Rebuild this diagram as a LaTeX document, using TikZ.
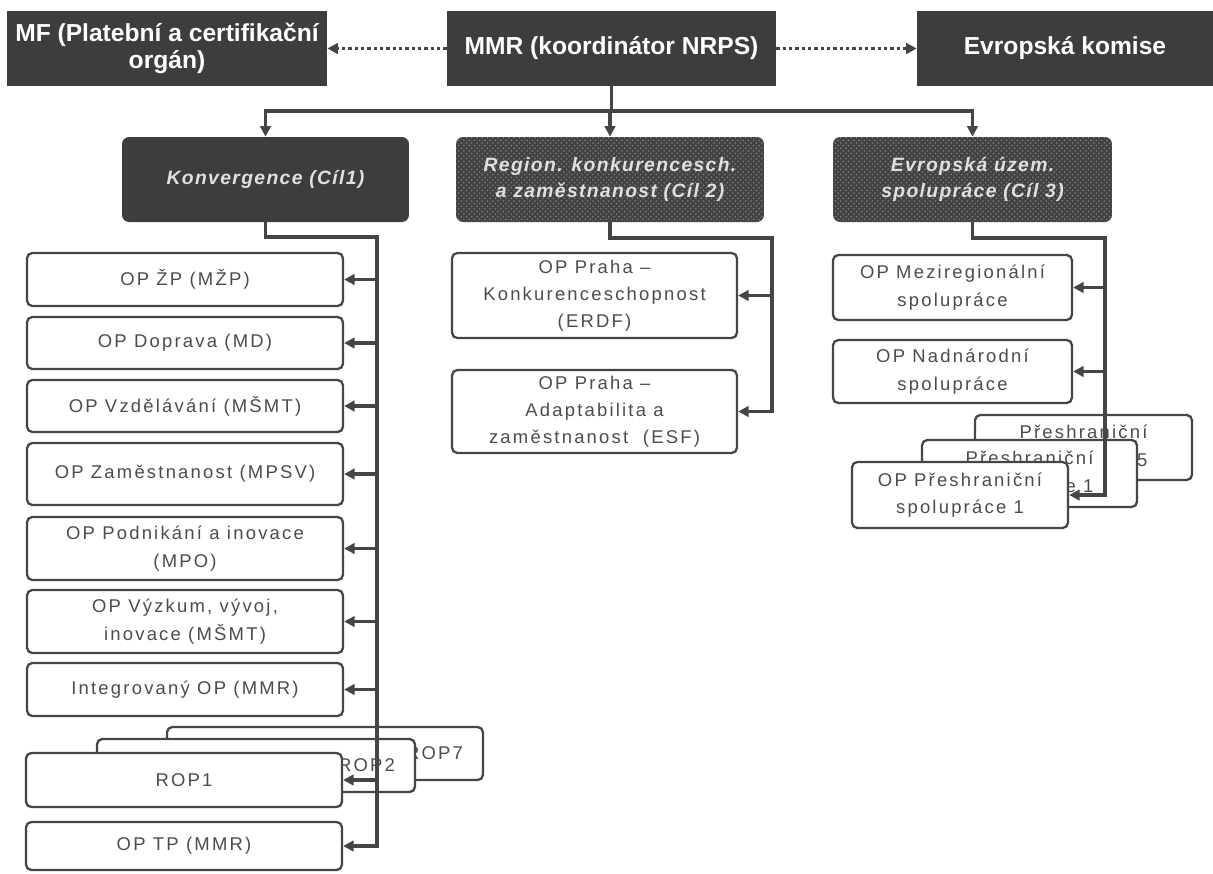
\documentclass[tikz,border=0pt]{standalone}
\usepackage{fontspec}
\setmainfont{Liberation Sans}
\newfontfamily\opfam[LetterSpace=12]{Liberation Sans}
\newfontfamily\goalfam[LetterSpace=7]{Liberation Sans}
\newcommand\opfnt{\opfam\fontsize{10.5}{15.5}\selectfont}
\newcommand\goalfnt{\goalfam\bfseries\itshape\fontsize{11}{15}\selectfont}
\newcommand\topfnt{\bfseries\fontsize{14}{15.5}\selectfont}
\usetikzlibrary{patterns,arrows.meta}
\definecolor{boxgray}{HTML}{3D3D3D}
\definecolor{linegray}{HTML}{454545}
\tikzset{
  topbox/.style={fill=boxgray, text=white, font=\topfnt, align=center,
    inner sep=1pt, minimum height=1.5cm},
  goalbox/.style={fill=boxgray, rounded corners=4pt, text=black!12,
    font=\goalfnt, align=center, inner sep=1pt, minimum height=1.7cm},
  dotbox/.style={goalbox, fill=black!74,
    postaction={pattern=crosshatch dots, pattern color=black!50}},
  opbox/.style={draw=linegray, line width=1.3pt, rounded corners=3pt,
    fill=white, text=black!70, font=\opfnt, align=center, inner sep=1pt},
  link/.style={draw=linegray, line width=1.8pt},
  conn/.style={link, -{Triangle[length=6pt,width=6pt]}},
  dotlink/.style={draw=linegray, line width=2pt,
    dash pattern=on 2pt off 1.6pt, -{Triangle[length=6pt,width=6pt]}}
}
\begin{document}
\begin{tikzpicture}[x=0.02cm,y=-0.02cm]
  \useasboundingbox (0,0) rectangle (1213,873);

  % top row
  \node[topbox, minimum width=6.4cm] (mf) at (167,48.5)
    {MF (Platební a certifikační\\orgán)};
  \node[topbox, minimum width=6.58cm] (mmr) at (611.5,48.5)
    {MMR (koordinátor NRPS)};
  \node[topbox, minimum width=5.92cm] (ek) at (1065,48.5) {Evropská komise};

  % goals
  \node[goalbox, minimum width=5.74cm] (konv) at (265.5,179.5)
    {Konvergence (Cíl1)};
  \node[dotbox, minimum width=6.16cm] (region) at (610,179.5)
    {Region. konkurencesch.\\a zaměstnanost (Cíl 2)};
  \node[dotbox, minimum width=5.58cm] (euz) at (972.5,179.5)
    {Evropská územ.\\spolupráce (Cíl 3)};

  % Cil 1
  \node[opbox, minimum width=6.32cm, minimum height=1.06cm] (zp) at (185,279.5)
    {OP ŽP (MŽP)};
  \node[opbox, minimum width=6.32cm, minimum height=1.04cm] (doprava) at (185,343)
    {OP Doprava (MD)};
  \node[opbox, minimum width=6.32cm, minimum height=1.04cm] (vzdel) at (185,406)
    {OP Vzdělávání (MŠMT)};
  \node[opbox, minimum width=6.32cm, minimum height=1.24cm] (zamest) at (185,474)
    {OP Zaměstnanost (MPSV)};
  \node[opbox, minimum width=6.32cm, minimum height=1.26cm] (podnik) at (185,548.5)
    {OP Podnikání a inovace\\(MPO)};
  \node[opbox, minimum width=6.32cm, minimum height=1.26cm] (vyzkum) at (185,621.5)
    {OP Výzkum, vývoj,\\inovace (MŠMT)};
  \node[opbox, minimum width=6.32cm, minimum height=1.06cm] (integr) at (185,689.5)
    {Integrovaný OP (MMR)};
  \node[opbox, minimum width=6.32cm, minimum height=1.06cm, inner xsep=0.4cm,
    text width=5.52cm, align=right] (rop7) at (325,753.5) {ROP7};
  \node[opbox, minimum width=6.36cm, minimum height=1.06cm, inner xsep=0.4cm,
    text width=5.56cm, align=right] (rop2) at (256,765.5) {ROP2};
  \node[opbox, minimum width=6.32cm, minimum height=1.08cm] (rop1) at (184,780)
    {ROP1};
  \node[opbox, minimum width=6.32cm, minimum height=0.96cm] (optp) at (184,846)
    {OP TP (MMR)};

  % Cil 2
  \node[opbox, minimum width=5.7cm, minimum height=1.7cm] (konk) at (594.5,295.5)
    {OP Praha –\\Konkurenceschopnost\\(ERDF)};
  \node[opbox, minimum width=5.7cm, minimum height=1.66cm] (adapt) at (594.5,411.5)
    {OP Praha –\\Adaptabilita a\\zaměstnanost \ (ESF)};

  % Cil 3
  \node[opbox, minimum width=4.78cm, minimum height=1.3cm] (mezireg) at (952.5,287.5)
    {OP Meziregionální\\spolupráce};
  \node[opbox, minimum width=4.78cm, minimum height=1.26cm] (nadnar) at (952.5,371.5)
    {OP Nadnárodní\\spolupráce};
  \node[opbox, minimum width=4.34cm, minimum height=1.3cm] (pres5) at (1083.5,447.5)
    {Přeshraniční\\spolupráce 5};
  \node[opbox, minimum width=4.3cm, minimum height=1.34cm] (pres2) at (1029.5,473.5)
    {Přeshraniční\\spolupráce 1};
  \node[opbox, minimum width=4.32cm, minimum height=1.32cm] (pres1) at (960,495)
    {OP Přeshraniční\\spolupráce 1};

  % links
  \draw[dotlink] (mmr.west) -- (mf.east);
  \draw[dotlink] (mmr.east) -- (ek.west);

  \coordinate (bus) at (611.5,111);
  \draw[link] (mmr.south) -- (bus);
  \draw[conn] (bus) -| (konv.north);
  \draw[conn] (bus) -| (euz.north);
  \draw[conn] (bus -| region.north) -- (region.north);

  \coordinate (ltrunk) at (377,237);
  \draw[conn] (konv.south) |- (ltrunk) |- (optp.east);
  \foreach \n in {zp,doprava,vzdel,zamest,podnik,vyzkum,integr,rop1}
    \draw[conn] (ltrunk |- \n.east) -- (\n.east);

  \coordinate (mtrunk) at (772,238);
  \draw[conn] (region.south) |- (mtrunk) |- (adapt.east);
  \draw[conn] (mtrunk |- konk.east) -- (konk.east);

  \coordinate (rtrunk) at (1105,238);
  \draw[conn] (euz.south) |- (rtrunk) |- (pres1.east);
  \foreach \n in {mezireg,nadnar}
    \draw[conn] (rtrunk |- \n.east) -- (\n.east);
\end{tikzpicture}
\end{document}
